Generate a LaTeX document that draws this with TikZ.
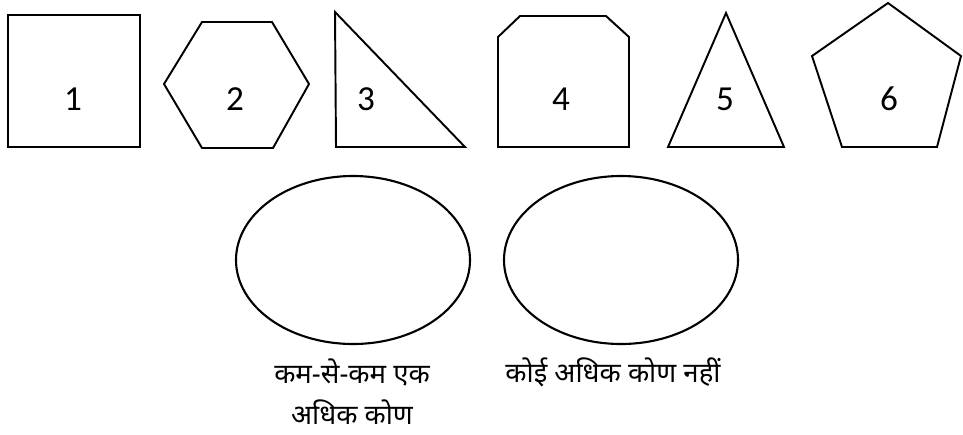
\documentclass[tikz,border=0pt]{standalone}
\usepackage{fontspec}
\setmainfont{Carlito}
\newfontfamily\hindifont[Script=Devanagari]{Noto Sans}
\usetikzlibrary{calc}
\tikzset{
  shp/.style ={draw,line width=1.1pt,line join=miter},
  oval/.style={draw,line width=1.2pt},
  num/.style ={font=\fontsize{20}{24}\selectfont,inner sep=0pt},
  hin/.style ={font=\hindifont\fontsize{15.7}{19}\selectfont,inner sep=0pt,align=center},
}
\begin{document}
\begin{tikzpicture}[x=0.02cm,y=-0.02cm]
  \useasboundingbox (0,0) rectangle (963,434);
  % shapes
  \draw[shp] (8,15) rectangle (140,147);
  \draw[shp] (202,22) -- (272,22) -- (309,84) -- (273,148) -- (202,148) -- (164,84) -- cycle;
  \draw[shp] (335,12) -- (465,147) -- (336,147) -- cycle;
  \draw[shp] (498,37) -- (520,16) -- (606,16) -- (629,37) -- (629,147) -- (498,147) -- cycle;
  \draw[shp] (726,13) -- (784,147) -- (668,147) -- cycle;
  \draw[shp] (888,3) -- (961,56) -- (937,147) -- (842,147) -- (812,56) -- cycle;
  \node[num] (n1) at (73,99)  {1};
  \node[num] (n2) at (235,99) {2};
  \node[num] (n3) at (366,99) {3};
  \node[num] (n4) at (561,99) {4};
  \node[num] (n5) at (725,99) {5};
  \node[num] (n6) at (889,99) {6};
  % sets
  \coordinate (e1) at (353,260);
  \coordinate (e2) at (621,260);
  \draw[oval] (e1) ellipse [x radius=117,y radius=84];
  \draw[oval] (e2) ellipse [x radius=117,y radius=84];
  \node[hin] (t1a) at (352,372) {कम-से-कम एक};
  \node[hin] (t1b) at (352,412) {अधिक कोण};
  \node[hin] (t2)  at (613,372) {कोई अधिक कोण नहीं};
\end{tikzpicture}
\end{document}
